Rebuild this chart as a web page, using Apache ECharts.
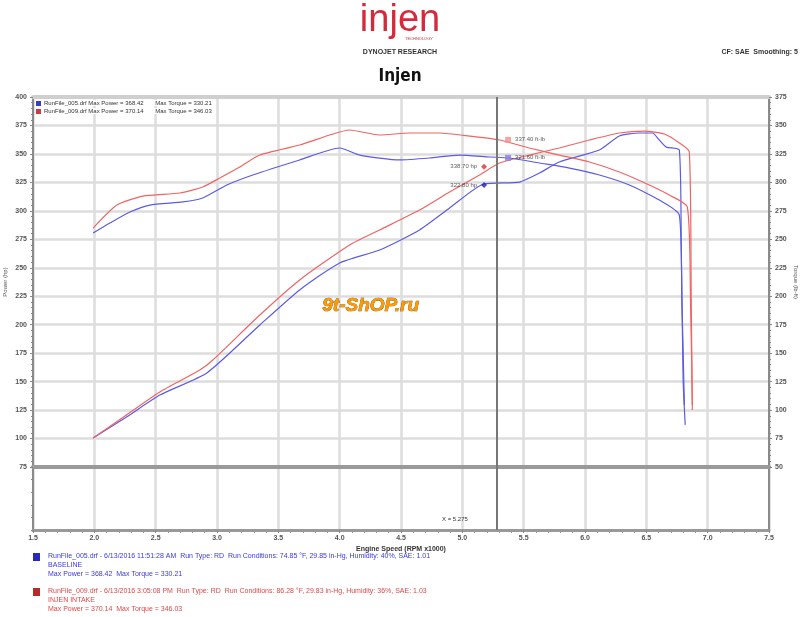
<!DOCTYPE html>
<html>
<head>
<meta charset="utf-8">
<script src="https://cdn.jsdelivr.net/npm/echarts@6/dist/echarts.min.js"></script>
<style>html,body{margin:0;padding:0;background:#fff}#c{width:800px;height:617px}</style>
</head>
<body>
<div id="c"></div>
<script>
// ---- data (RPM x1000, hp / lb-ft) ----
const rpmBasePower = [1.99,2.25,2.534,2.917,3.349,3.674,4.0,4.326,4.651,4.896,5.173,5.466,5.629,5.79,6.117,6.28,6.443,6.55,6.606,6.663,6.769,6.785,6.80,6.817];
const hpBase =       [100.5,118,138.2,157.6,199.7,230.5,254.2,265.6,283.2,302.5,323.6,325.3,333.2,342.9,353.4,365.7,368.4,368.4,362.2,356,353.4,265.6,151.4,112];
const rpmIntakePower = [1.99,2.25,2.534,2.86,2.966,3.349,3.674,4.081,4.326,4.651,4.896,5.14,5.303,5.547,5.79,6.036,6.28,6.484,6.647,6.769,6.85,6.866,6.875];
const hpIntake =       [100.5,119.8,140.9,160.2,169,208.5,239.3,270,283.2,300.7,316.6,331.5,342,349,355.2,362.2,368.4,370.1,367.5,359.6,351.7,221.7,125];
const rpmBaseTorque = [1.99,2.127,2.29,2.453,2.722,2.884,3.08,3.292,3.674,4.0,4.163,4.489,4.733,4.977,5.222,5.384,5.629,5.873,6.117,6.362,6.606,6.769,6.79,6.81];
const tqBase =        [255.5,264.3,274,280.1,282.8,286.3,297.7,306.5,319.7,330.2,324,319.7,321.4,324,322.3,321.4,317,312.6,306.5,297.7,284.5,271.3,196.7,104.5];
const rpmIntakeTorque = [1.99,2.184,2.396,2.697,2.884,3.023,3.186,3.349,3.674,3.919,4.081,4.326,4.57,4.814,5.059,5.303,5.547,5.79,6.036,6.28,6.524,6.687,6.834,6.86,6.875];
const tqIntake =        [259.9,280.1,288,290.7,296,303.9,313.5,324,332.8,341.6,346,341.6,343.4,343.4,340.7,337.2,330.2,324,317.9,309.1,297.7,288.9,278.4,196.7,104.5];
const cursorRpm = 5.275;
const cursorHp = [338.7, 322.8];   // intake, baseline
const cursorTq = [337.4, 321.6];   // intake, baseline
const xTicks = {min:1.5, max:7.5, step:0.5};
const hpTicks = {min:75, max:400, step:25};
const tqTicks = {min:50, max:375, step:25};
const runNames = ['RunFile_005.drf','RunFile_009.drf'];
const maxPower = [368.42, 370.14];
const maxTorque = [330.21, 346.03];

const BLUE = '#5b5be3', RED = '#ef6464';
const pair = (xs, ys) => xs.map((x,i)=>[x, ys[i]]);
const F = 'Liberation Sans';
const lbl = {fontSize:7, color:'#555', fontFamily:F, fontWeight:'bold'};

const chart = echarts.init(document.getElementById('c'), null, {renderer:'canvas'});
const L = 33, W = 736;
chart.setOption({
  animation:false,
  backgroundColor:'#fff',
  grid:[
    {left:L, width:W, top:97, height:370, outerBoundsMode:'none', containLabel:false},
    {left:L, width:W, top:467, height:63, outerBoundsMode:'none', containLabel:false}
  ],
  xAxis:[
    {gridIndex:0, type:'value', min:xTicks.min, max:xTicks.max, interval:xTicks.step,
     axisLabel:{show:false}, axisTick:{show:false},
     axisLine:{show:true, lineStyle:{color:'#9a9a9a', width:4}},
     splitLine:{show:true, lineStyle:{color:'#dddddd', width:2.5}}},
    {gridIndex:1, type:'value', min:xTicks.min, max:xTicks.max, interval:xTicks.step,
     axisLabel:Object.assign({formatter:v=>v.toFixed(1), margin:5}, lbl),
     axisTick:{show:true, length:3, lineStyle:{color:'#888'}},
     minorTick:{show:true, splitNumber:5, length:3, lineStyle:{color:'#999'}},
     axisLine:{show:true, onZero:false, lineStyle:{color:'#999', width:3}},
     splitLine:{show:true, lineStyle:{color:'#dddddd', width:2.5}},
     name:'Engine Speed (RPM x1000)', nameLocation:'middle', nameGap:16, nameMoveOverlap:false,
     nameTextStyle:{fontSize:7, color:'#333', fontFamily:F, fontWeight:'bold', padding:[0,0,0,0]}},
    {gridIndex:0, type:'value', position:'top', min:xTicks.min, max:xTicks.max, interval:xTicks.step,
     axisLabel:{show:false}, axisTick:{show:false}, splitLine:{show:false},
     axisLine:{show:true, lineStyle:{color:'#cfcfcf', width:4}}}
  ],
  yAxis:[
    {gridIndex:0, type:'value', position:'left', min:hpTicks.min, max:hpTicks.max, interval:hpTicks.step,
     axisLabel:Object.assign({margin:6}, lbl),
     axisTick:{show:true, length:3, lineStyle:{color:'#888'}},
     minorTick:{show:true, splitNumber:5, length:2, lineStyle:{color:'#888'}},
     axisLine:{show:true, lineStyle:{color:'#8a8a8a', width:2}},
     splitLine:{show:true, lineStyle:{color:'#dddddd', width:2.5}},
     name:'Power (hp)', nameLocation:'middle', nameGap:25, nameRotate:90, nameMoveOverlap:false,
     nameTextStyle:{fontSize:6, color:'#555', fontFamily:F}},
    {gridIndex:0, type:'value', position:'right', min:tqTicks.min, max:tqTicks.max, interval:tqTicks.step,
     axisLabel:Object.assign({margin:6}, lbl),
     axisTick:{show:true, length:3, lineStyle:{color:'#888'}},
     minorTick:{show:true, splitNumber:5, length:2, lineStyle:{color:'#888'}},
     axisLine:{show:true, lineStyle:{color:'#8a8a8a', width:2}},
     splitLine:{show:false},
     name:'Torque (lb-ft)', nameLocation:'middle', nameGap:24, nameRotate:-90, nameMoveOverlap:false,
     nameTextStyle:{fontSize:6, color:'#555', fontFamily:F}},
    {gridIndex:1, type:'value', position:'left', min:0, max:10, interval:2,
     axisLabel:{show:false}, axisTick:{show:true, length:2, lineStyle:{color:'#888'}},
     axisLine:{show:true, lineStyle:{color:'#8a8a8a', width:2}}, splitLine:{show:false}},
    {gridIndex:1, type:'value', position:'right', min:0, max:10, interval:2,
     axisLabel:{show:false}, axisTick:{show:false},
     axisLine:{show:true, lineStyle:{color:'#8a8a8a', width:2}}, splitLine:{show:false}}
  ],
  series:[
    {type:'line', name:'Baseline Power', xAxisIndex:0, yAxisIndex:0, data:pair(rpmBasePower,hpBase),
     showSymbol:false, smooth:0.2, lineStyle:{color:BLUE, width:1.2}, z:3,
     markLine:{silent:true, symbol:'none', label:{show:false}, lineStyle:{color:'#777', width:2, type:'solid'},
       data:[{xAxis:cursorRpm}]}},
    {type:'line', name:'Intake Power', xAxisIndex:0, yAxisIndex:0, data:pair(rpmIntakePower,hpIntake),
     showSymbol:false, smooth:0.2, lineStyle:{color:RED, width:1.2}, z:3},
    {type:'line', name:'Baseline Torque', xAxisIndex:0, yAxisIndex:1, data:pair(rpmBaseTorque,tqBase),
     showSymbol:false, smooth:0.2, lineStyle:{color:BLUE, width:1.2}, z:3},
    {type:'line', name:'Intake Torque', xAxisIndex:0, yAxisIndex:1, data:pair(rpmIntakeTorque,tqIntake),
     showSymbol:false, smooth:0.2, lineStyle:{color:RED, width:1.2}, z:3},
    {type:'line', name:'cursorLower', xAxisIndex:1, yAxisIndex:2, data:[],
     markLine:{silent:true, symbol:'none', lineStyle:{color:'#777', width:2, type:'solid'},
       label:{show:false}, data:[{xAxis:cursorRpm}]}},
    {type:'scatter', name:'hpCursor', xAxisIndex:0, yAxisIndex:0, symbol:'diamond', symbolSize:6, symbolOffset:[-12,0], z:5,
     data:[{value:[cursorRpm,cursorHp[0]], itemStyle:{color:'#e03030'}}, {value:[cursorRpm,cursorHp[1]], itemStyle:{color:'#2020b0'}}],
     label:{show:true, position:'left', distance:4, formatter:p=>p.value[1].toFixed(2)+' hp', fontSize:6, color:'#333', fontFamily:F}},
    {type:'scatter', name:'tqCursor', xAxisIndex:0, yAxisIndex:1, symbol:'rect', symbolSize:6, symbolOffset:[12,0], z:5,
     data:[{value:[cursorRpm,cursorTq[0]], itemStyle:{color:'#f09090'}}, {value:[cursorRpm,cursorTq[1]], itemStyle:{color:'#8080e0'}}],
     label:{show:true, position:'right', distance:4, formatter:p=>p.value[1].toFixed(2)+' ft-lb', fontSize:6, color:'#333', fontFamily:F}}
  ],
  graphic:[
    {type:'text', left:'center', top:2, z:10, style:{text:'injen', font:'38px "Liberation Sans"', fill:'#d42a3c'}},
    {type:'text', left:405, top:37, z:10, style:{text:'TECHNOLOGY', font:'4px "Liberation Sans"', fill:'#d42a3c'}},
    {type:'text', left:'center', top:49, z:10, style:{text:'DYNOJET RESEARCH', font:'bold 7px "Liberation Sans"', fill:'#333'}},
    {type:'text', right:2, top:49, z:10, style:{text:'CF: SAE  Smoothing: 5', font:'bold 7px "Liberation Sans"', fill:'#333'}},
    {type:'text', left:'center', top:68, z:10, style:{text:'Injen', font:'bold 17px "DejaVu Sans Condensed"', fill:'#111'}},
    {type:'rect', z:10, shape:{x:36, y:101, width:5, height:5}, style:{fill:'#3a3ad0'}},
    {type:'rect', z:10, shape:{x:36, y:109, width:5, height:5}, style:{fill:'#d03a3a'}},
    {type:'text', left:44, top:100, z:10, style:{text:runNames[0]+' Max Power = '+maxPower[0].toFixed(2)+'       Max Torque = '+maxTorque[0].toFixed(2), font:'6px "Liberation Sans"', fill:'#333', backgroundColor:'#fff'}},
    {type:'text', left:44, top:108, z:10, style:{text:runNames[1]+' Max Power = '+maxPower[1].toFixed(2)+'       Max Torque = '+maxTorque[1].toFixed(2), font:'6px "Liberation Sans"', fill:'#333', backgroundColor:'#fff'}},
    {type:'text', left:322, top:296, z:10, style:{text:'9t-ShOP.ru', font:'italic bold 19px "Liberation Sans"', fill:'#ff9a00', stroke:'#6a3a00', lineWidth:0.6}},
    {type:'text', left:442, top:516, z:10, style:{text:'X = '+cursorRpm.toFixed(3), font:'6px "Liberation Sans"', fill:'#333'}},
    {type:'rect', z:10, shape:{x:33, y:553, width:7, height:8}, style:{fill:'#2a2ab8'}},
    {type:'text', left:48, top:553, z:10, style:{text:runNames[0]+' - 6/13/2016 11:51:28 AM  Run Type: RD  Run Conditions: 74.85 °F, 29.85 in-Hg, Humidity: 40%, SAE: 1.01', font:'7px "Liberation Sans"', fill:'#3a3ad8'}},
    {type:'text', left:48, top:562, z:10, style:{text:'BASELINE', font:'7px "Liberation Sans"', fill:'#3a3ad8'}},
    {type:'text', left:48, top:571, z:10, style:{text:'Max Power = '+maxPower[0].toFixed(2)+'  Max Torque = '+maxTorque[0].toFixed(2), font:'7px "Liberation Sans"', fill:'#3a3ad8'}},
    {type:'rect', z:10, shape:{x:33, y:588, width:7, height:8}, style:{fill:'#b82a2a'}},
    {type:'text', left:48, top:588, z:10, style:{text:runNames[1]+' - 6/13/2016 3:05:08 PM  Run Type: RD  Run Conditions: 86.28 °F, 29.83 in-Hg, Humidity: 36%, SAE: 1.03', font:'7px "Liberation Sans"', fill:'#e04848'}},
    {type:'text', left:48, top:597, z:10, style:{text:'INJEN INTAKE', font:'7px "Liberation Sans"', fill:'#e04848'}},
    {type:'text', left:48, top:606, z:10, style:{text:'Max Power = '+maxPower[1].toFixed(2)+'  Max Torque = '+maxTorque[1].toFixed(2), font:'7px "Liberation Sans"', fill:'#e04848'}}
  ]
});
</script>
</body>
</html>
